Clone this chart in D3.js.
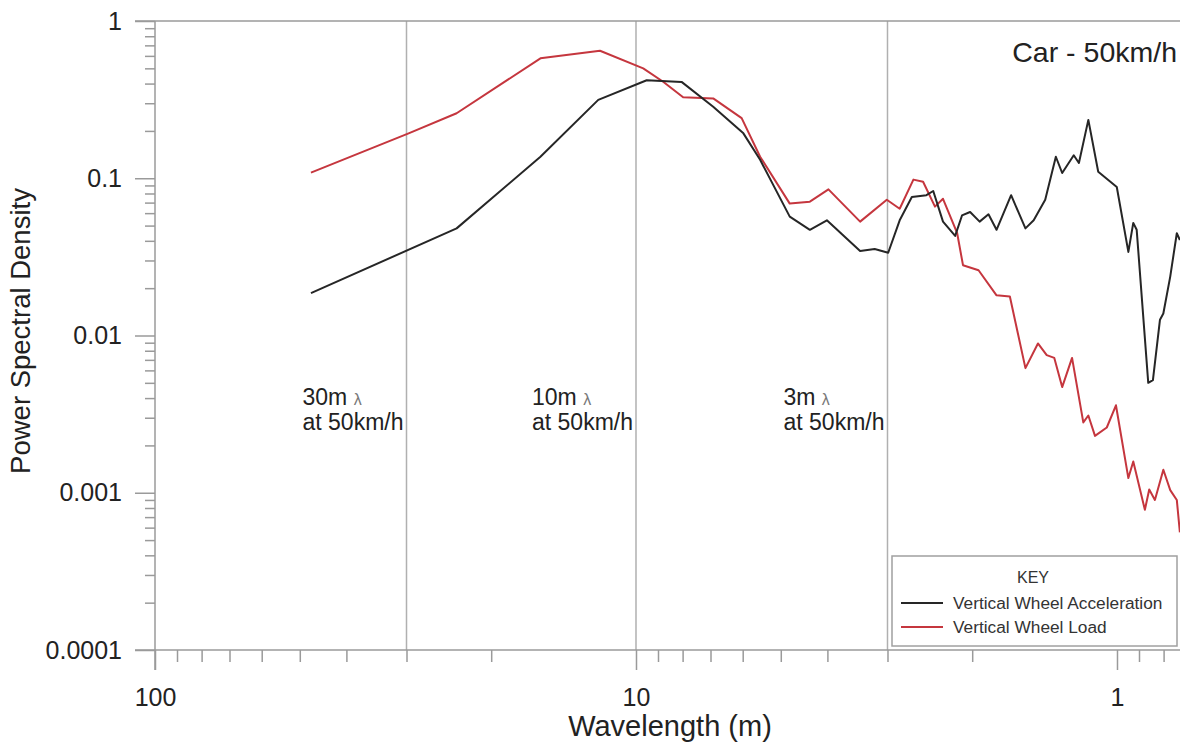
<!DOCTYPE html>
<html><head><meta charset="utf-8">
<script src="https://cdn.jsdelivr.net/npm/d3@7"></script>
<style>
body{margin:0;background:#fff}
svg{display:block;font-family:Arial,"Liberation Sans",sans-serif}
</style>
</head><body>
<svg id="c" width="1180" height="742"></svg>
<script>
// ---- data ----
const accelWavelength = [47.4,23.6,15.8,11.98,9.50,8.04,6.91,5.98,5.52,4.79,4.35,4.01,3.42,3.19,2.99,2.83,2.67,2.49,2.41,2.30,2.17,2.10,2.02,1.93,1.85,1.78,1.66,1.55,1.49,1.41,1.34,1.30,1.23,1.20,1.147,1.094,1.001,0.947,0.925,0.910,0.861,0.842,0.814,0.801,0.775,0.751,0.740];
const accelPSD = [0.0186,0.048,0.137,0.315,0.42,0.41,0.285,0.193,0.131,0.057,0.047,0.054,0.0345,0.0355,0.0336,0.054,0.076,0.078,0.083,0.053,0.043,0.058,0.061,0.053,0.059,0.047,0.078,0.048,0.054,0.073,0.137,0.108,0.14,0.125,0.235,0.11,0.088,0.034,0.052,0.047,0.005,0.0052,0.0126,0.0138,0.0237,0.0447,0.0405];
const loadWavelength = [47.4,29.7,23.6,15.8,11.88,9.66,8.78,7.98,6.91,6.03,5.52,4.79,4.35,3.98,3.42,3.01,2.83,2.65,2.53,2.39,2.30,2.15,2.09,1.94,1.78,1.67,1.55,1.46,1.40,1.35,1.30,1.24,1.175,1.147,1.111,1.050,1.005,0.947,0.925,0.875,0.857,0.834,0.801,0.775,0.751,0.740];
const loadPSD = [0.1085,0.193,0.259,0.579,0.647,0.50,0.411,0.327,0.322,0.241,0.137,0.069,0.071,0.085,0.053,0.073,0.064,0.098,0.095,0.066,0.074,0.045,0.028,0.026,0.018,0.0177,0.0062,0.0089,0.0075,0.0072,0.0047,0.0072,0.0028,0.0031,0.0023,0.0026,0.0036,0.00124,0.00158,0.00078,0.00105,0.0009,0.0014,0.00104,0.0009,0.00056];
const seriesNames = ["Vertical Wheel Acceleration","Vertical Wheel Load"];
const seriesColors = ["#262626","#c5363e"];
const xTickValues = [100,10,1];
const xTickLabels = ["100","10","1"];
const yTickValues = [1,0.1,0.01,0.001,0.0001];
const yTickLabels = ["1","0.1","0.01","0.001","0.0001"];
const markerWavelengths = [30,10,3];
const markerLabels = ["30m","10m","3m"];
const markerSub = "at 50km/h";
const chartTitle = "Car - 50km/h";
const xTitle = "Wavelength (m)";
const yTitle = "Power Spectral Density";
const legendTitle = "KEY";

// ---- layout ----
const svg = d3.select("#c");
const L = 155, R = 1180, T = 21, B = 650;
const x = d3.scaleLog().domain([100, 0.7396]).range([L, R]);
const y = d3.scaleLog().domain([0.0001, 1]).range([B, T]);
const axisColor = "#9a9a9a";
const textColor = "#222";

// minor tick values
const xMinor = [], yMinor = [];
for (const dec of [10, 1, 0.1]) for (let k = 2; k <= 9; k++) { const v = k * dec; if (v < 100 && v > 0.7396) xMinor.push(v); }
for (const dec of [0.1, 0.01, 0.001, 0.0001]) for (let k = 2; k <= 9; k++) { const v = k * dec; if (v < 1) yMinor.push(v); }

// vertical marker lines
svg.append("g").selectAll("line").data(markerWavelengths).join("line")
  .attr("x1", d => x(d)).attr("x2", d => x(d)).attr("y1", T).attr("y2", B)
  .attr("stroke", "#b0b0b0").attr("stroke-width", 1.5);

// top border
svg.append("line").attr("x1", L - 20).attr("x2", R).attr("y1", T).attr("y2", T)
  .attr("stroke", axisColor).attr("stroke-width", 1.5);

function styleAxis(g) {
  g.select(".domain").remove();
  g.selectAll(".tick line").attr("stroke", axisColor).attr("stroke-width", 1.5);
  g.selectAll(".tick text").attr("fill", textColor).attr("font-size", 25);
}

// y axis
svg.append("g").attr("transform", `translate(${L},0)`)
  .call(d3.axisLeft(y).tickValues(yMinor).tickSize(10).tickFormat(""))
  .call(styleAxis);
svg.append("g").attr("transform", `translate(${L},0)`)
  .call(d3.axisLeft(y).tickValues(yTickValues).tickSize(20).tickPadding(13)
    .tickFormat((d, i) => yTickLabels[i]))
  .call(styleAxis);
svg.append("line").attr("x1", L).attr("x2", L).attr("y1", T).attr("y2", B + 20)
  .attr("stroke", axisColor).attr("stroke-width", 1.5);

// x axis
svg.append("g").attr("transform", `translate(0,${B})`)
  .call(d3.axisBottom(x).tickValues(xMinor).tickSize(12).tickFormat(""))
  .call(styleAxis);
svg.append("g").attr("transform", `translate(0,${B})`)
  .call(d3.axisBottom(x).tickValues(xTickValues).tickSize(20).tickPadding(18)
    .tickFormat((d, i) => xTickLabels[i]))
  .call(styleAxis);
svg.append("line").attr("x1", L - 20).attr("x2", R).attr("y1", B).attr("y2", B)
  .attr("stroke", axisColor).attr("stroke-width", 1.5);

// axis titles
svg.append("text").attr("x", 670).attr("y", 736).attr("text-anchor", "middle")
  .attr("font-size", 29).attr("fill", textColor).text(xTitle);
svg.append("text").attr("transform", "translate(30,331) rotate(-90)").attr("text-anchor", "middle")
  .attr("font-size", 27.5).attr("fill", textColor).text(yTitle);

// chart title
svg.append("text").attr("x", 1177).attr("y", 62).attr("text-anchor", "end")
  .attr("font-size", 28.5).attr("fill", textColor).text(chartTitle);

// marker annotations
const ann = svg.append("g").selectAll("g").data(markerWavelengths).join("g")
  .attr("transform", d => `translate(${x(d) - 104},0)`);
const t1 = ann.append("text").attr("x", 0).attr("y", 405).attr("font-size", 23).attr("fill", textColor);
t1.append("tspan").text((d, i) => markerLabels[i] + " ");
t1.append("tspan").attr("font-size", 16).attr("fill", "#777").text("λ");
ann.append("text").attr("x", 0).attr("y", 430).attr("font-size", 23).attr("fill", textColor).text(markerSub);

// lines
const line = d3.line().x(d => x(d[0])).y(d => y(d[1]));
const series = [
  d3.zip(accelWavelength, accelPSD),
  d3.zip(loadWavelength, loadPSD)
];
svg.append("g").selectAll("path").data([series[1], series[0]]).join("path")
  .attr("d", line).attr("fill", "none")
  .attr("stroke", (d, i) => i === 0 ? seriesColors[1] : seriesColors[0])
  .attr("stroke-width", 2).attr("stroke-linejoin", "round");

// legend
const lg = svg.append("g");
lg.append("rect").attr("x", 892).attr("y", 556).attr("width", 285).attr("height", 90)
  .attr("fill", "#fff").attr("stroke", "#a0a0a0").attr("stroke-width", 1.5);
lg.append("text").attr("x", 1033).attr("y", 583).attr("text-anchor", "middle")
  .attr("font-size", 16).attr("fill", "#333").text(legendTitle);
seriesNames.forEach((n, i) => {
  const yy = 603 + i * 24;
  lg.append("line").attr("x1", 901).attr("x2", 943).attr("y1", yy).attr("y2", yy)
    .attr("stroke", seriesColors[i]).attr("stroke-width", 2);
  lg.append("text").attr("x", 953).attr("y", yy + 6).attr("font-size", 17.3)
    .attr("fill", "#333").text(n);
});
</script>
</body></html>
